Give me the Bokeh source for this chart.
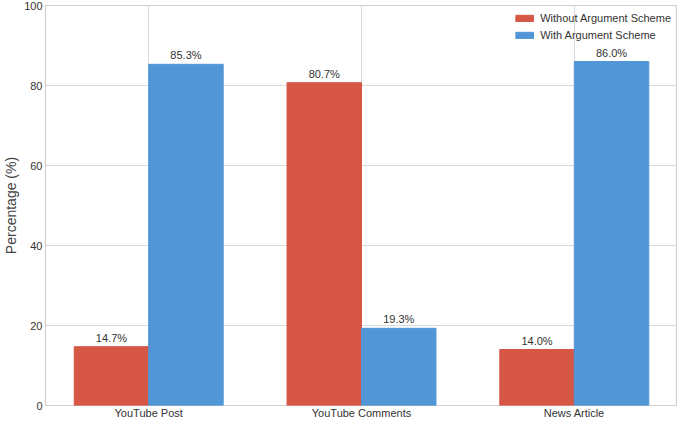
import numpy as np
from bokeh.plotting import figure
from bokeh.models import Range1d, FixedTicker, ColumnDataSource, Legend, LegendItem
from bokeh.embed import file_html
from bokeh.resources import INLINE
from bokeh.core.properties import value

categories = ["YouTube Post", "YouTube Comments", "News Article"]
without_scheme = [14.7, 80.7, 14.0]
with_scheme = [85.3, 19.3, 86.0]
series_names = ["Without Argument Scheme", "With Argument Scheme"]
y_ticks = [0, 20, 40, 60, 80, 100]

RED = "#D65746"
BLUE = "#5196D6"
FONT = "Liberation Sans"
bw = 0.35

idx = np.arange(len(categories))

p = figure(width=677, height=421, output_backend="svg", toolbar_location=None,
           x_range=Range1d(-0.485, 2.485), y_range=Range1d(0, 100),
           min_border_left=0, min_border_right=0, min_border_top=5, min_border_bottom=0)

src_a = ColumnDataSource(dict(x=idx - bw / 2, top=without_scheme,
                              lab=[f"{v:.1f}%" for v in without_scheme]))
src_b = ColumnDataSource(dict(x=idx + bw / 2, top=with_scheme,
                              lab=[f"{v:.1f}%" for v in with_scheme]))

ra = p.vbar(x="x", top="top", width=bw, bottom=0, color=RED, line_color=RED, source=src_a)
rb = p.vbar(x="x", top="top", width=bw, bottom=0, color=BLUE, line_color=BLUE, source=src_b)

for s in (src_a, src_b):
    p.text(x="x", y="top", text="lab", source=s, text_align="center", text_baseline="bottom",
           y_offset=-3, text_font=value(FONT), text_font_size="11px", text_color="#333333")

legend = Legend(items=[LegendItem(label=series_names[0], renderers=[ra]),
                       LegendItem(label=series_names[1], renderers=[rb])],
                location="top_right")
legend.border_line_color = None
legend.background_fill_alpha = 0
legend.label_text_font = FONT
legend.label_text_font_size = "11px"
legend.label_text_color = "#333333"
legend.glyph_width = 22
legend.glyph_height = 8
legend.label_height = 14
legend.spacing = 3
legend.padding = 4
legend.margin = 6
p.add_layout(legend)

p.xaxis.ticker = FixedTicker(ticks=list(idx))
p.xaxis.major_label_overrides = {int(i): c for i, c in zip(idx, categories)}
p.yaxis.ticker = FixedTicker(ticks=y_ticks)
p.yaxis.axis_label = "Percentage (%)"

for ax in (p.xaxis, p.yaxis):
    ax.axis_line_color = None
    ax.major_tick_line_color = None
    ax.major_tick_out = 0
    ax.major_tick_in = 0
    ax.minor_tick_line_color = None
    ax.minor_tick_out = 0
    ax.major_label_text_font = FONT
    ax.major_label_text_font_size = "11px"
    ax.major_label_text_color = "#333333"
p.xaxis.major_label_standoff = 1
p.yaxis.major_label_standoff = 3
p.yaxis.axis_label_text_font = FONT
p.yaxis.axis_label_text_font_size = "14px"
p.yaxis.axis_label_text_font_style = "normal"
p.yaxis.axis_label_text_color = "#444444"
p.yaxis.axis_label_standoff = 2

p.xgrid.grid_line_color = "#D9D9D9"
p.ygrid.grid_line_color = "#D9D9D9"
p.outline_line_color = "#CFCFCF"
p.outline_line_width = 1.2
p.background_fill_color = "white"
p.border_fill_color = "white"

open("out.html", "w").write(file_html(p, INLINE))
